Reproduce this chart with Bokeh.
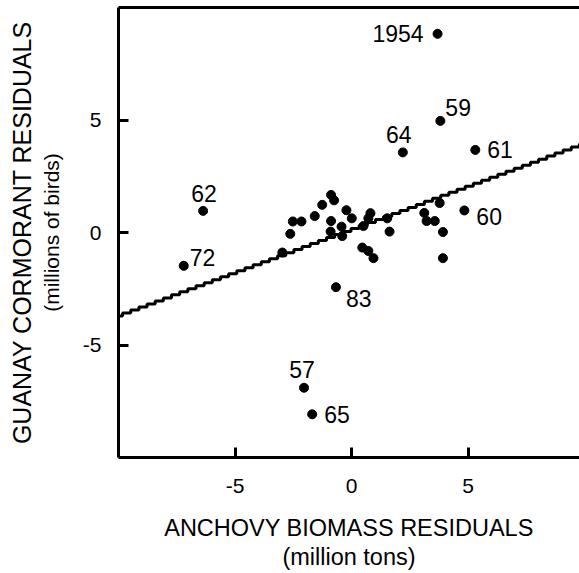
import numpy as np
from bokeh.plotting import figure
from bokeh.models import ColumnDataSource, LinearAxis, FixedTicker, Range1d, Title
from bokeh.core.properties import value
from bokeh.embed import file_html
from bokeh.resources import INLINE

# ---- data ----
anchovy = [3.69, 3.81, 2.20, 5.31, -6.37, 4.84, -7.20, -0.67, -2.04, -1.69,
           -2.97, -2.63, -2.52, -2.15, -1.58, -1.26, -0.88, -0.75, -0.22, 0.01,
           -0.88, -0.90, -0.43, -0.40, 0.51, 0.72, 0.81, 0.46, 0.72, 0.94,
           1.53, 1.63, 3.12, 3.22, 3.57, 3.78, 3.92, 3.92]
cormorant = [8.83, 4.96, 3.56, 3.67, 0.96, 0.98, -1.48, -2.43, -6.90, -8.08,
             -0.89, -0.06, 0.49, 0.49, 0.73, 1.23, 1.67, 1.43, 0.99, 0.63,
             0.51, 0.04, 0.26, -0.16, 0.29, 0.63, 0.86, -0.67, -0.82, -1.14,
             0.63, 0.04, 0.87, 0.51, 0.51, 1.31, 0.02, -1.14]
year_labels = ["1954", "59", "64", "61", "62", "60", "72", "83", "57", "65"]
fit_slope = 0.383
fit_intercept = 0.12
x_ticks = [-5, 0, 5]
y_ticks = [-5, 0, 5]
tick_text = {-5: "-5", 0: "0", 5: "5"}

# label placement (style): (x_offset px, y_offset px, align)
label_style = {
    "1954": (-14, 0, "right"),
    "59": (5, -13, "left"),
    "64": (-4, -18, "center"),
    "61": (12, 0, "left"),
    "62": (1, -17, "center"),
    "60": (12, 6, "left"),
    "72": (6, -8, "left"),
    "83": (10, 11, "left"),
    "57": (-2, -18, "center"),
    "65": (12, 0, "left"),
}

FONT = "Liberation Sans"

p = figure(width=579, height=573, output_backend="svg", toolbar_location=None,
           x_range=Range1d(-10, 9.78), y_range=Range1d(-10, 10),
           min_border_left=118, min_border_right=0, min_border_top=7,
           min_border_bottom=115, x_axis_location=None, y_axis_location=None)
p.grid.visible = False
p.outline_line_color = None
p.background_fill_color = "white"
p.border_fill_color = "white"

def style_axis(ax):
    ax.axis_line_width = 3
    ax.axis_line_color = "black"
    ax.major_tick_line_width = 3
    ax.major_tick_in = 10
    ax.major_tick_out = 0
    ax.minor_tick_line_color = None
    ax.major_label_text_font = FONT
    ax.major_label_text_font_size = "21px"
    ax.major_label_text_color = "black"
    ax.major_label_overrides = tick_text
    ax.axis_label_text_font = FONT
    ax.axis_label_text_font_style = "normal"
    ax.axis_label_text_color = "black"

xa = LinearAxis(ticker=FixedTicker(ticks=x_ticks),
                axis_label="ANCHOVY BIOMASS RESIDUALS\n(million tons)")
style_axis(xa)
xa.axis_label_text_font_size = "23.5px"
xa.axis_label_text_line_height = 1.15
xa.major_label_standoff = 21
xa.axis_label_standoff = 19
p.add_layout(xa, "below")

ya = LinearAxis(ticker=FixedTicker(ticks=y_ticks),
                axis_label="(millions of birds)")
style_axis(ya)
ya.axis_label_text_font_size = "21px"
ya.major_label_standoff = 17
ya.axis_label_standoff = 17
ya.major_label_orientation = "horizontal"
p.add_layout(ya, "left")

yt = Title(text="GUANAY CORMORANT RESIDUALS", align="center",
           text_font=FONT, text_font_size="25px", text_font_style="normal",
           text_color="black", standoff=1)
p.add_layout(yt, "left")

ta = LinearAxis(ticker=FixedTicker(ticks=[]))
ta.axis_line_width = 3
ta.axis_line_color = "black"
ta.major_label_text_font_size = "0px"
ta.major_tick_line_color = None
ta.minor_tick_line_color = None
p.add_layout(ta, "above")

# regression line (stepped appearance)
xs = np.arange(-10, 9.78 + 0.35, 0.35)
ys = fit_intercept + fit_slope * xs
p.step(xs, ys, mode="center", line_width=3, line_color="black")

p.scatter(anchovy, cormorant, size=9, color="black", line_color="black")

n = len(year_labels)
src = ColumnDataSource(dict(
    x=anchovy[:n], y=cormorant[:n], t=year_labels,
    xo=[label_style[t][0] for t in year_labels],
    yo=[label_style[t][1] for t in year_labels],
    al=[label_style[t][2] for t in year_labels],
))
p.text(x="x", y="y", text="t", x_offset="xo", y_offset="yo", text_align="al",
       text_baseline="middle", text_font=value(FONT), text_font_size="23px",
       text_color="black", source=src)

open("out.html", "w").write(file_html(p, INLINE))
